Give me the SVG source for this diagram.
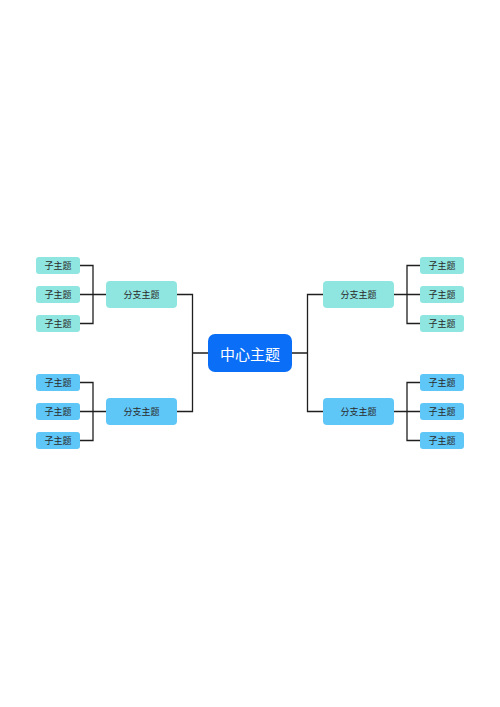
<svg xmlns="http://www.w3.org/2000/svg" width="500" height="707" viewBox="0 0 500 707">
<style>
.bg{fill:#ffffff}
.teal{fill:#8fe6e1}
.blue{fill:#5fc6f8}
.center{fill:#0b6ef6}
.t{font-family:"Noto Sans CJK SC","Liberation Sans",sans-serif;font-size:9px;fill:#2b2b2b;text-anchor:middle;dominant-baseline:central}
.tc{font-family:"Noto Sans CJK SC","Liberation Sans",sans-serif;font-size:15px;fill:#ffffff;text-anchor:middle;dominant-baseline:central}
.ln{fill:none;stroke:#1f1f1f;stroke-width:1.3}
</style>
<rect class="bg" x="0" y="0" width="500" height="707"/>
<g id="connectors">
<path class="ln" d="M208 353H192.5V294.5H177M192.5 353V411.5H177"/>
<path class="ln" d="M292 353H307.5V294.5H323M307.5 353V411.5H323"/>
<path class="ln" d="M106 294.5H93M80 265.5H93V323.5H80M80 294.5H93"/>
<path class="ln" d="M106 411.5H93M80 382.5H93V440.5H80M80 411.5H93"/>
<path class="ln" d="M394 294.5H407M420 265.5H407V323.5H420M420 294.5H407"/>
<path class="ln" d="M394 411.5H407M420 382.5H407V440.5H420M420 411.5H407"/>
</g>
<g id="center"><rect class="center" x="208" y="334" width="84" height="38" rx="7"/><text class="tc" x="250" y="353">中心主题</text></g>
<g id="branch-lt"><rect class="teal" x="106" y="281" width="71" height="27" rx="4"/><text class="t" x="141.5" y="294.5">分支主题</text></g>
<g id="branch-lb"><rect class="blue" x="106" y="398" width="71" height="27" rx="4"/><text class="t" x="141.5" y="411.5">分支主题</text></g>
<g id="branch-rt"><rect class="teal" x="323" y="281" width="71" height="27" rx="4"/><text class="t" x="358.5" y="294.5">分支主题</text></g>
<g id="branch-rb"><rect class="blue" x="323" y="398" width="71" height="27" rx="4"/><text class="t" x="358.5" y="411.5">分支主题</text></g>
<g id="child-lt1"><rect class="teal" x="36" y="257" width="44" height="17" rx="3"/><text class="t" x="58" y="265.5">子主题</text></g>
<g id="child-lt2"><rect class="teal" x="36" y="286" width="44" height="17" rx="3"/><text class="t" x="58" y="294.5">子主题</text></g>
<g id="child-lt3"><rect class="teal" x="36" y="315" width="44" height="17" rx="3"/><text class="t" x="58" y="323.5">子主题</text></g>
<g id="child-lb1"><rect class="blue" x="36" y="374" width="44" height="17" rx="3"/><text class="t" x="58" y="382.5">子主题</text></g>
<g id="child-lb2"><rect class="blue" x="36" y="403" width="44" height="17" rx="3"/><text class="t" x="58" y="411.5">子主题</text></g>
<g id="child-lb3"><rect class="blue" x="36" y="432" width="44" height="17" rx="3"/><text class="t" x="58" y="440.5">子主题</text></g>
<g id="child-rt1"><rect class="teal" x="420" y="257" width="44" height="17" rx="3"/><text class="t" x="442" y="265.5">子主题</text></g>
<g id="child-rt2"><rect class="teal" x="420" y="286" width="44" height="17" rx="3"/><text class="t" x="442" y="294.5">子主题</text></g>
<g id="child-rt3"><rect class="teal" x="420" y="315" width="44" height="17" rx="3"/><text class="t" x="442" y="323.5">子主题</text></g>
<g id="child-rb1"><rect class="blue" x="420" y="374" width="44" height="17" rx="3"/><text class="t" x="442" y="382.5">子主题</text></g>
<g id="child-rb2"><rect class="blue" x="420" y="403" width="44" height="17" rx="3"/><text class="t" x="442" y="411.5">子主题</text></g>
<g id="child-rb3"><rect class="blue" x="420" y="432" width="44" height="17" rx="3"/><text class="t" x="442" y="440.5">子主题</text></g>
</svg>
